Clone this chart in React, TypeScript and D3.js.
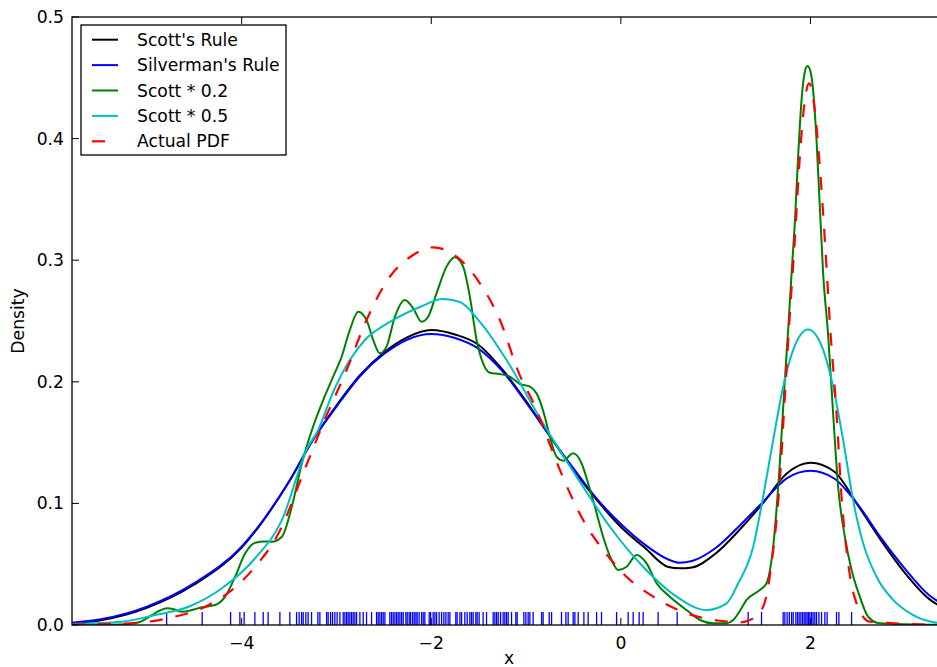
import React from 'react';
import * as d3 from 'd3';

// ---------- data ----------
const xDomain = [-5.79, 3.43];

const gridX = [-5.79, -5.5, -5, -4.5, -4, -3.5, -3.25, -3, -2.75, -2.5, -2.25, -2, -1.75, -1.5, -1.25, -1, -0.75, -0.5, -0.25, 0, 0.25, 0.5, 0.62, 0.75, 1, 1.25, 1.5, 1.75, 2, 2.25, 2.5, 2.75, 3, 3.25, 3.43];
const scottY = [0.0014, 0.0037, 0.0141, 0.0333, 0.0637, 0.118, 0.1521, 0.1805, 0.2056, 0.2241, 0.2368, 0.2426, 0.2389, 0.2303, 0.2101, 0.1842, 0.1554, 0.1275, 0.1024, 0.0806, 0.0637, 0.0477, 0.0466, 0.0473, 0.0588, 0.0781, 0.1003, 0.1246, 0.1334, 0.1262, 0.0985, 0.069, 0.0425, 0.0215, 0.013];
const silvermanY = [0.0019, 0.0045, 0.0151, 0.0344, 0.0645, 0.118, 0.152, 0.1796, 0.2048, 0.2228, 0.2348, 0.2393, 0.236, 0.2271, 0.2088, 0.183, 0.1556, 0.1288, 0.1035, 0.0831, 0.0663, 0.0539, 0.0512, 0.0526, 0.0633, 0.0814, 0.1012, 0.1206, 0.1268, 0.1205, 0.099, 0.071, 0.046, 0.0247, 0.0156];

const half05X = [-5.79, -5.264, -4.912, -4.56, -4.209, -3.858, -3.576, -3.31, -3.193, -3.035, -2.859, -2.7, -2.437, -2.12, -1.878, -1.698, -1.487, -1.206, -0.836, -0.467, -0.116, 0.235, 0.588, 0.904, 1.115, 1.234, 1.396, 1.501, 1.607, 1.712, 1.818, 1.976, 2.134, 2.239, 2.345, 2.45, 2.556, 2.697, 2.872, 3.083, 3.333, 3.43];
const half05Y = [0.0008, 0.0027, 0.0082, 0.015, 0.0302, 0.0549, 0.0863, 0.145, 0.1604, 0.1916, 0.2179, 0.2344, 0.2492, 0.2615, 0.2681, 0.2656, 0.2492, 0.2179, 0.1678, 0.122, 0.0808, 0.0479, 0.0233, 0.0123, 0.0178, 0.0337, 0.0644, 0.1055, 0.1521, 0.196, 0.2262, 0.243, 0.2262, 0.196, 0.1521, 0.1028, 0.0672, 0.0397, 0.0206, 0.0082, 0.0019, 0.0012];

const fifthX = [-5.79, -5.39, -5.179, -5.074, -4.947, -4.863, -4.789, -4.705, -4.631, -4.525, -4.42, -4.28, -4.174, -4.069, -3.963, -3.858, -3.755, -3.681, -3.576, -3.471, -3.365, -3.259, -3.14, -3.035, -2.946, -2.859, -2.771, -2.683, -2.613, -2.542, -2.472, -2.384, -2.278, -2.191, -2.102, -2.033, -1.944, -1.839, -1.751, -1.664, -1.593, -1.522, -1.453, -1.382, -1.276, -1.171, -1.065, -0.96, -0.872, -0.802, -0.749, -0.678, -0.609, -0.503, -0.415, -0.345, -0.274, -0.187, -0.098, -0.028, 0.06, 0.166, 0.271, 0.377, 0.517, 0.693, 0.833, 0.974, 1.115, 1.185, 1.255, 1.326, 1.466, 1.537, 1.607, 1.677, 1.73, 1.765, 1.801, 1.835, 1.87, 1.906, 1.941, 1.969, 2.001, 2.028, 2.064, 2.099, 2.134, 2.187, 2.239, 2.292, 2.363, 2.434, 2.521, 2.609, 2.732, 3.43];
const fifthY = [0.0002, 0.0002, 0.001, 0.0025, 0.0082, 0.0119, 0.0137, 0.0127, 0.0109, 0.0123, 0.0146, 0.0164, 0.0233, 0.0397, 0.059, 0.0677, 0.0687, 0.0685, 0.0726, 0.0973, 0.133, 0.1604, 0.185, 0.2042, 0.2206, 0.2426, 0.2577, 0.2508, 0.2344, 0.2234, 0.2289, 0.2535, 0.2673, 0.2604, 0.2494, 0.2535, 0.2728, 0.2947, 0.3024, 0.2947, 0.27, 0.2344, 0.2152, 0.2075, 0.2064, 0.2042, 0.1982, 0.196, 0.1877, 0.1713, 0.1549, 0.1384, 0.1351, 0.1412, 0.133, 0.1165, 0.0973, 0.0726, 0.0535, 0.0452, 0.0479, 0.0576, 0.0507, 0.0343, 0.0233, 0.0123, 0.0041, 0.0014, 0.0014, 0.0041, 0.0115, 0.0206, 0.0288, 0.0343, 0.0644, 0.133, 0.2015, 0.2426, 0.2892, 0.3303, 0.3851, 0.4317, 0.455, 0.4597, 0.455, 0.44, 0.3988, 0.344, 0.2892, 0.238, 0.1741, 0.1137, 0.0726, 0.0452, 0.0233, 0.0068, 0.0014, 0.0];

const actualX = [-5.79, -5.443, -5.088, -4.736, -4.385, -4.103, -3.858, -3.611, -3.33, -3.14, -2.893, -2.683, -2.437, -2.191, -1.98, -1.733, -1.487, -1.276, -1.076, -0.889, -0.82, -0.643, -0.398, -0.187, 0.06, 0.341, 0.693, 1.044, 1.255, 1.361, 1.501, 1.59, 1.677, 1.73, 1.772, 1.835, 1.888, 1.941, 1.986, 2.046, 2.099, 2.152, 2.205, 2.275, 2.328, 2.398, 2.486, 2.627, 3.43];
const actualY = [0.0003, 0.0008, 0.0019, 0.0063, 0.015, 0.0288, 0.0479, 0.0754, 0.1289, 0.1659, 0.2097, 0.2508, 0.2864, 0.3043, 0.3106, 0.3029, 0.281, 0.2508, 0.2072, 0.1768, 0.1631, 0.1275, 0.0863, 0.0617, 0.0397, 0.0233, 0.0096, 0.0035, 0.0022, 0.0041, 0.015, 0.0507, 0.1192, 0.1877, 0.2426, 0.3166, 0.3851, 0.4317, 0.4455, 0.4235, 0.3769, 0.3166, 0.2481, 0.1741, 0.1055, 0.0507, 0.0178, 0.0027, 0.0];

const samples = [-4.792, -4.417, -4.117, -4.019, -3.974, -3.861, -3.773, -3.721, -3.597, -3.492, -3.421, -3.394, -3.368, -3.351, -3.323, -3.299, -3.263, -3.196, -3.175, -3.104, -3.088, -3.062, -3.041, -3.017, -2.993, -2.964, -2.929, -2.911, -2.893, -2.877, -2.859, -2.841, -2.824, -2.806, -2.788, -2.753, -2.718, -2.683, -2.63, -2.577, -2.56, -2.542, -2.524, -2.507, -2.489, -2.437, -2.419, -2.402, -2.384, -2.366, -2.349, -2.331, -2.313, -2.296, -2.268, -2.254, -2.233, -2.218, -2.197, -2.18, -2.162, -2.149, -2.128, -2.102, -2.085, -2.068, -2.022, -2.007, -1.98, -1.962, -1.944, -1.917, -1.891, -1.867, -1.846, -1.822, -1.804, -1.741, -1.727, -1.698, -1.68, -1.646, -1.621, -1.593, -1.575, -1.558, -1.53, -1.516, -1.495, -1.453, -1.417, -1.347, -1.329, -1.311, -1.294, -1.269, -1.242, -1.224, -1.206, -1.189, -1.153, -1.108, -1.094, -1.023, -1.002, -0.978, -0.96, -0.925, -0.836, -0.82, -0.756, -0.731, -0.626, -0.58, -0.556, -0.503, -0.485, -0.45, -0.39, -0.345, -0.256, -0.204, -0.045, 0.077, 0.13, 0.193, 0.235, 0.393, 0.594, 1.343, 1.484, 1.712, 1.73, 1.754, 1.777, 1.801, 1.818, 1.846, 1.864, 1.881, 1.899, 1.917, 1.934, 1.951, 1.965, 1.98, 1.994, 2.012, 2.028, 2.046, 2.064, 2.089, 2.117, 2.152, 2.176, 2.275, 2.3, 2.434];

const xTicks = [-4, -2, 0, 2];
const xTickLabels = ['\u22124', '\u22122', '0', '2'];
const yTicks = [0, 0.1, 0.2, 0.3, 0.4, 0.5];
const yTickLabels = ['0.0', '0.1', '0.2', '0.3', '0.4', '0.5'];
const legendLabels = ["Scott's Rule", "Silverman's Rule", 'Scott * 0.2', 'Scott * 0.5', 'Actual PDF'];

// ---------- layout ----------
const W = 937;
const H = 667;
const left = 72;
const right = 946;
const top = 17;
const bottom = 625;
const FONT = 'DejaVu Sans';
const FS = 17.2;

const x = d3.scaleLinear().domain(xDomain).range([left, right]);
const y = d3.scaleLinear().domain([0, 0.5]).range([bottom, top]);

const line = d3
  .line<[number, number]>()
  .x((d) => x(d[0]))
  .y((d) => y(d[1]))
  .curve(d3.curveMonotoneX);

const zip = (xs: number[], ys: number[]) => xs.map((v, i) => [v, ys[i]] as [number, number]);

const series = [
  { label: legendLabels[0], color: '#000000', dash: undefined as string | undefined, width: 2, pts: zip(gridX, scottY) },
  { label: legendLabels[1], color: '#0000ff', dash: undefined, width: 2, pts: zip(gridX, silvermanY) },
  { label: legendLabels[2], color: '#008000', dash: undefined, width: 2, pts: zip(fifthX, fifthY) },
  { label: legendLabels[3], color: '#00bfbf', dash: undefined, width: 2, pts: zip(half05X, half05Y) },
  { label: legendLabels[4], color: '#ff0000', dash: '13,13', width: 2.2, pts: zip(actualX, actualY) },
];

export default function App() {
  const tickLen = 7;
  return (
    <svg
      width={W}
      height={H}
      style={{ position: 'absolute', left: 0, top: 0, background: '#fff' }}
      fontFamily={FONT}
    >
      <defs>
        <clipPath id="plotclip">
          <rect x={left} y={top} width={right - left} height={bottom - top} />
        </clipPath>
      </defs>
      <rect x={0} y={0} width={W} height={H} fill="#fff" />

      <g clipPath="url(#plotclip)">
        {samples.map((s, i) => (
          <line key={'r' + i} x1={x(s)} x2={x(s)} y1={y(0)} y2={y(0) - 13} stroke="#0000ff" strokeWidth={1.3} />
        ))}
        {series.map((s, i) => (
          <path
            key={'s' + i}
            d={line(s.pts) || ''}
            fill="none"
            stroke={s.color}
            strokeWidth={s.width}
            strokeDasharray={s.dash}
          />
        ))}
      </g>

      {/* spines */}
      <rect x={left} y={top} width={right - left} height={bottom - top} fill="none" stroke="#000" strokeWidth={1.3} />

      {/* x ticks */}
      {xTicks.map((t, i) => (
        <g key={'xt' + i}>
          <line x1={x(t)} x2={x(t)} y1={bottom} y2={bottom - tickLen} stroke="#000" strokeWidth={1} />
          <line x1={x(t)} x2={x(t)} y1={top} y2={top + tickLen} stroke="#000" strokeWidth={1} />
          <text x={x(t)} y={649} textAnchor="middle" fontSize={FS} fill="#000">
            {xTickLabels[i]}
          </text>
        </g>
      ))}

      {/* y ticks */}
      {yTicks.map((t, i) => (
        <g key={'yt' + i}>
          <line x1={left} x2={left + tickLen} y1={y(t)} y2={y(t)} stroke="#000" strokeWidth={1} />
          <line x1={right} x2={right - tickLen} y1={y(t)} y2={y(t)} stroke="#000" strokeWidth={1} />
          <text x={64} y={y(t)} textAnchor="end" dominantBaseline="central" fontSize={FS} fill="#000">
            {yTickLabels[i]}
          </text>
        </g>
      ))}

      {/* axis labels */}
      <text x={(left + right) / 2} y={664} textAnchor="middle" fontSize={FS} fill="#000">
        x
      </text>
      <text
        transform={`translate(24, ${(top + bottom) / 2}) rotate(-90)`}
        textAnchor="middle"
        fontSize={FS}
        fill="#000"
      >
        Density
      </text>

      {/* legend */}
      <g>
        <rect x={81} y={25} width={205} height={130} fill="#fff" stroke="#000" strokeWidth={1.3} />
        {series.map((s, i) => {
          const ly = 39.7 + 25.4 * i;
          return (
            <g key={'lg' + i}>
              <line x1={92} x2={118} y1={ly} y2={ly} stroke={s.color} strokeWidth={s.width} strokeDasharray={s.dash} />
              <text x={137} y={ly} dominantBaseline="central" fontSize={FS} fill="#000">
                {s.label}
              </text>
            </g>
          );
        })}
      </g>
    </svg>
  );
}
